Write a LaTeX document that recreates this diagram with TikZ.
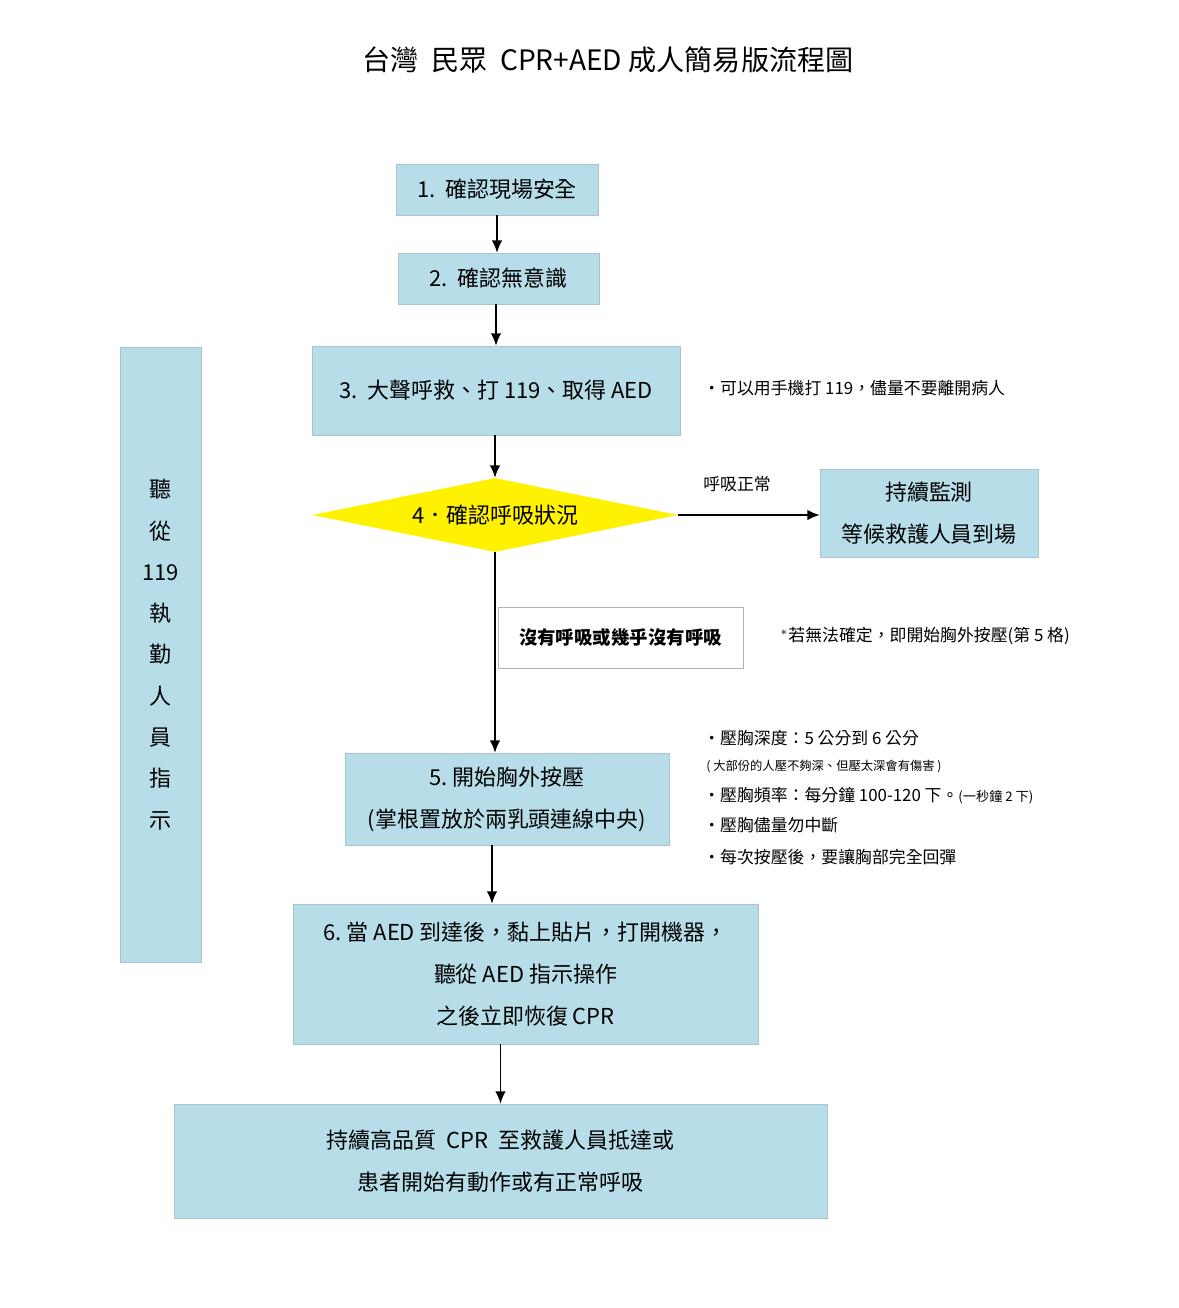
\documentclass[tikz,border=0pt]{standalone}
\usepackage{fontspec}
\setmainfont{Noto Sans CJK TC}
\usetikzlibrary{shapes.geometric,arrows.meta,positioning}
\definecolor{boxblue}{HTML}{B7DDE8}
\definecolor{boxline}{HTML}{A9C4CC}
\tikzset{
  stepbox/.style={draw=boxline,fill=boxblue,inner sep=0pt,align=center,font=\fontsize{12.5}{24}\selectfont},
  note/.style={anchor=west,inner sep=0pt,font=\fontsize{9.6}{12}\selectfont},
  flow/.style={-{Latex[length=7pt,width=6pt]},line width=0.9pt}
}
\begin{document}
\begin{tikzpicture}[x=0.02cm,y=-0.02cm]
	\useasboundingbox (0,0) rectangle (1179,1308);
	\node[font=\fontsize{16}{18}\selectfont] (title) at (608,60) {台灣\ \ 民眾\ \ CPR+AED 成人簡易版流程圖};
	
	\node[stepbox,minimum width=202*0.02cm,minimum height=51*0.02cm] (safe) at (497,189.5) {1.\ \ 確認現場安全};
	\node[stepbox,minimum width=201*0.02cm,minimum height=51*0.02cm] (conscious) at (498.5,278.5) {2.\ \ 確認無意識};
	\node[stepbox,minimum width=368*0.02cm,minimum height=89*0.02cm] (call) at (496,390.5) {3.\ \ 大聲呼救、打 119、取得 AED};
	\node[note] (phone) at (703,388) {・可以用手機打 119，儘量不要離開病人};
	
	\node[diamond,fill=yellow,inner sep=0pt,minimum width=366*0.02cm,minimum height=74*0.02cm,aspect=5,font=\fontsize{12.5}{14}\selectfont] (breath) at (495,515) {4．確認呼吸狀況};
	\node[stepbox,minimum width=218*0.02cm,minimum height=88*0.02cm] (monitor) at (929,513) {持續監測\\等候救護人員到場};
	\node[note] (normal) at (703,484) {呼吸正常};
	
	\node[draw=gray!60,fill=white,minimum width=245*0.02cm,minimum height=61*0.02cm,font=\bfseries\fontsize{10.5}{12}\selectfont] (nobreath) at (620.5,637.5) {沒有呼吸或幾乎沒有呼吸};
	\node[note] (unsure) at (780,636) {$^*$若無法確定，即開始胸外按壓(第 5 格)};
	
	\node[stepbox,minimum width=324*0.02cm,minimum height=92*0.02cm] (press) at (507,799) {5.\ 開始胸外按壓\\(掌根置放於兩乳頭連線中央)};
	\node[note] (depth) at (703,738) {・壓胸深度：5 公分到 6 公分};
	\node[note,font=\fontsize{7}{8}\selectfont] (depthnote) at (706,766) {( 大部份的人壓不夠深、但壓太深會有傷害 )};
	\node[note] (rate) at (703,796) {・壓胸頻率：每分鐘 100-120 下。{\fontsize{7.5}{8}\selectfont(一秒鐘 2 下)}};
	\node[note] (nostop) at (703,825) {・壓胸儘量勿中斷};
	\node[note] (recoil) at (703,857) {・每次按壓後，要讓胸部完全回彈};
	
	\node[stepbox,minimum width=465*0.02cm,minimum height=140*0.02cm] (aed) at (525.5,974) {6.\ 當 AED 到達後，黏上貼片，打開機器，\\聽從 AED 指示操作\\之後立即恢復 CPR};
	\node[stepbox,minimum width=653*0.02cm,minimum height=114*0.02cm] (keep) at (500.5,1161) {持續高品質\ \ CPR\ \ 至救護人員抵達或\\患者開始有動作或有正常呼吸};
	
	\node[stepbox,minimum width=81*0.02cm,minimum height=615*0.02cm,font=\fontsize{12.5}{23.5}\selectfont] (dispatch) at (160.5,654.5) {聽\\從\\119\\執\\勤\\人\\員\\指\\示};
	
	\draw[flow] (safe.south) -- (safe.south |- conscious.north);
	\draw[flow] (call.north |- conscious.south) -- (call.north);
	\draw[flow] (breath.north |- call.south) -- (breath.north);
	\draw[flow] (breath.east) -- (monitor.west |- breath.east);
	\draw[flow] (breath.south) -- (breath.south |- press.north);
	\draw[flow] ([xshift=-0.3cm]press.south) -- ([xshift=-0.3cm]press.south |- aed.north);
	\draw[flow] (keep.north |- aed.south) -- (keep.north);
\end{tikzpicture}
\end{document}
